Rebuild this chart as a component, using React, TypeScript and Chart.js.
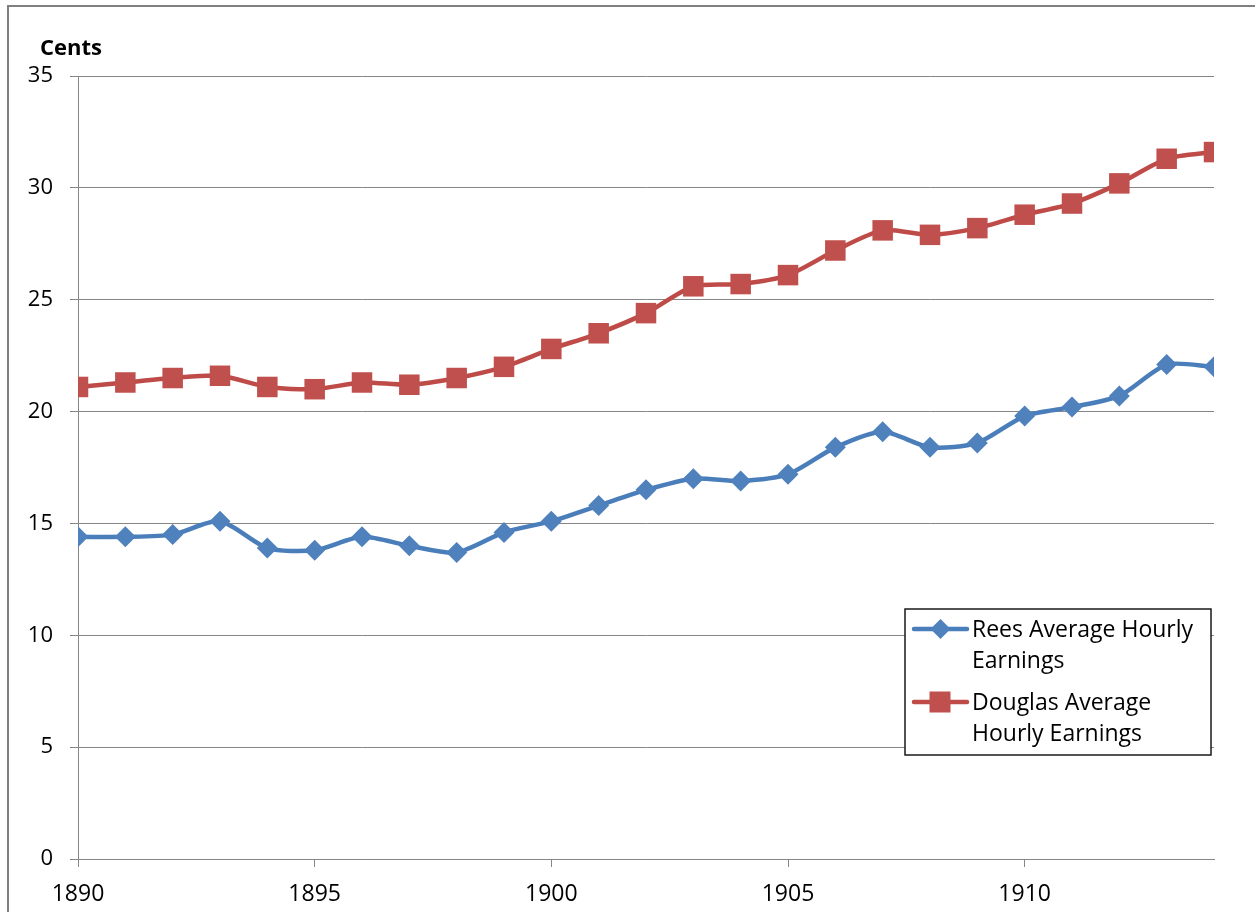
import React, { useEffect, useRef } from "react";
import { Chart, registerables } from "chart.js";

Chart.register(...registerables);

const years = [
  1890, 1891, 1892, 1893, 1894, 1895, 1896, 1897, 1898, 1899,
  1900, 1901, 1902, 1903, 1904, 1905, 1906, 1907, 1908, 1909,
  1910, 1911, 1912, 1913, 1914,
];
const reesEarnings = [
  14.4, 14.4, 14.5, 15.1, 13.9, 13.8, 14.4, 14.0, 13.7, 14.6,
  15.1, 15.8, 16.5, 17.0, 16.9, 17.2, 18.4, 19.1, 18.4, 18.6,
  19.8, 20.2, 20.7, 22.1, 22.0,
];
const douglasEarnings = [
  21.1, 21.3, 21.5, 21.6, 21.1, 21.0, 21.3, 21.2, 21.5, 22.0,
  22.8, 23.5, 24.4, 25.6, 25.7, 26.1, 27.2, 28.1, 27.9, 28.2,
  28.8, 29.3, 30.2, 31.3, 31.6,
];
const xTickYears = [1890, 1895, 1900, 1905, 1910];
const yAxisTitle = "Cents";
const reesLabelLines = ["Rees Average Hourly", "Earnings"];
const douglasLabelLines = ["Douglas Average", "Hourly Earnings"];

const BLUE_LINE = "#4A7EBB";
const BLUE_PT = "#4F81BD";
const RED_LINE = "#BE4B48";
const RED_PT = "#C0504D";
const GRID = "#868686";
const FONT = "'Open Sans', 'DejaVu Sans', sans-serif";

function drawDiamond(ctx: CanvasRenderingContext2D, x: number, y: number, r: number, color: string) {
  ctx.beginPath();
  ctx.moveTo(x, y - r);
  ctx.lineTo(x + r, y);
  ctx.lineTo(x, y + r);
  ctx.lineTo(x - r, y);
  ctx.closePath();
  ctx.fillStyle = color;
  ctx.fill();
}

function drawSquare(ctx: CanvasRenderingContext2D, x: number, y: number, h: number, color: string) {
  ctx.fillStyle = color;
  ctx.fillRect(x - h, y - h, 2 * h, 2 * h);
}

const decorPlugin = {
  id: "decor",
  beforeDraw(chart: any) {
    const ctx = chart.ctx as CanvasRenderingContext2D;
    ctx.save();
    ctx.fillStyle = "#ffffff";
    ctx.fillRect(0, 0, chart.width, chart.height);
    // outer frame
    ctx.strokeStyle = "#808080";
    ctx.lineWidth = 2;
    ctx.beginPath();
    ctx.moveTo(8, chart.height);
    ctx.lineTo(8, 6);
    ctx.lineTo(chart.width, 6);
    ctx.stroke();
    ctx.restore();
  },
  afterDraw(chart: any) {
    const ctx = chart.ctx as CanvasRenderingContext2D;
    const area = chart.chartArea;
    ctx.save();
    // axis title
    ctx.fillStyle = "#000000";
    ctx.font = `bold 22px ${FONT}`;
    ctx.textBaseline = "alphabetic";
    ctx.textAlign = "left";
    ctx.fillText(yAxisTitle, 40, 55);

    // legend box
    const left = area.right - 309;
    const top = area.top + 533;
    const w = 306;
    const h = 146;
    ctx.fillStyle = "#ffffff";
    ctx.fillRect(left, top, w, h);
    ctx.strokeStyle = "#1a1a1a";
    ctx.lineWidth = 1.5;
    ctx.strokeRect(left, top, w, h);

    const entries = [
      { lines: reesLabelLines, line: BLUE_LINE, pt: BLUE_PT, kind: "diamond", y: top + 20 },
      { lines: douglasLabelLines, line: RED_LINE, pt: RED_PT, kind: "square", y: top + 93 },
    ];
    ctx.font = `23px ${FONT}`;
    for (const e of entries) {
      ctx.strokeStyle = e.line;
      ctx.lineWidth = 4.5;
      ctx.lineCap = "round";
      ctx.beginPath();
      ctx.moveTo(left + 9, e.y);
      ctx.lineTo(left + 62, e.y);
      ctx.stroke();
      if (e.kind === "diamond") drawDiamond(ctx, left + 35.5, e.y, 10, e.pt);
      else drawSquare(ctx, left + 35, e.y, 10.5, e.pt);
      ctx.fillStyle = "#000000";
      e.lines.forEach((t, i) => {
        ctx.fillText(t, left + 67, e.y + 8 + i * 31);
      });
    }
    ctx.restore();
  },
};

export default function App() {
  const ref = useRef<HTMLCanvasElement | null>(null);

  useEffect(() => {
    if (!ref.current) return;
    const rees = years.map((yr, i) => ({ x: yr, y: reesEarnings[i] }));
    const douglas = years.map((yr, i) => ({ x: yr, y: douglasEarnings[i] }));
    const chart = new Chart(ref.current, {
      type: "line",
      data: {
        datasets: [
          {
            label: reesLabelLines.join(" "),
            data: rees,
            borderColor: BLUE_LINE,
            backgroundColor: BLUE_PT,
            borderWidth: 4.5,
            tension: 0.25,
            pointStyle: "rectRot",
            pointRadius: 10.5,
            pointBorderWidth: 0,
            pointBackgroundColor: BLUE_PT,
            pointBorderColor: BLUE_PT,
          },
          {
            label: douglasLabelLines.join(" "),
            data: douglas,
            borderColor: RED_LINE,
            backgroundColor: RED_PT,
            borderWidth: 4.5,
            tension: 0.25,
            pointStyle: "rect",
            pointRadius: 14.5,
            pointBorderWidth: 0,
            pointBackgroundColor: RED_PT,
            pointBorderColor: RED_PT,
          },
        ],
      },
      options: {
        responsive: false,
        animation: false,
        layout: { padding: { top: 76, right: 41, bottom: 0, left: 0 } },
        plugins: {
          legend: { display: false },
          tooltip: { enabled: false },
          title: { display: false },
        },
        scales: {
          x: {
            type: "linear",
            min: 1890,
            max: 1914,
            afterBuildTicks: (scale: any) => {
              scale.ticks = xTickYears.map((v) => ({ value: v }));
            },
            afterFit: (scale: any) => {
              scale.height = 53;
            },
            grid: {
              drawOnChartArea: false,
              drawTicks: true,
              tickLength: 8,
              color: GRID,
              lineWidth: 1,
            },
            border: { display: true, color: GRID, width: 1 },
            ticks: {
              color: "#000000",
              padding: 14,
              font: { family: FONT, size: 23 },
              maxRotation: 0,
              autoSkip: false,
              callback: (v: any) => String(v),
            },
          },
          y: {
            type: "linear",
            min: 0,
            max: 35,
            afterFit: (scale: any) => {
              scale.width = 78;
            },
            grid: {
              color: GRID,
              lineWidth: 1,
              tickLength: 8,
              drawTicks: true,
            },
            border: { display: true, color: GRID, width: 1 },
            ticks: {
              stepSize: 5,
              color: "#000000",
              padding: 17,
              font: { family: FONT, size: 22 },
            },
          },
        },
      },
      plugins: [decorPlugin],
    });
    return () => chart.destroy();
  }, []);

  return (
    <canvas
      ref={ref}
      width={1255}
      height={912}
      style={{ position: "absolute", left: 0, top: 0, width: 1255, height: 912 }}
    />
  );
}
